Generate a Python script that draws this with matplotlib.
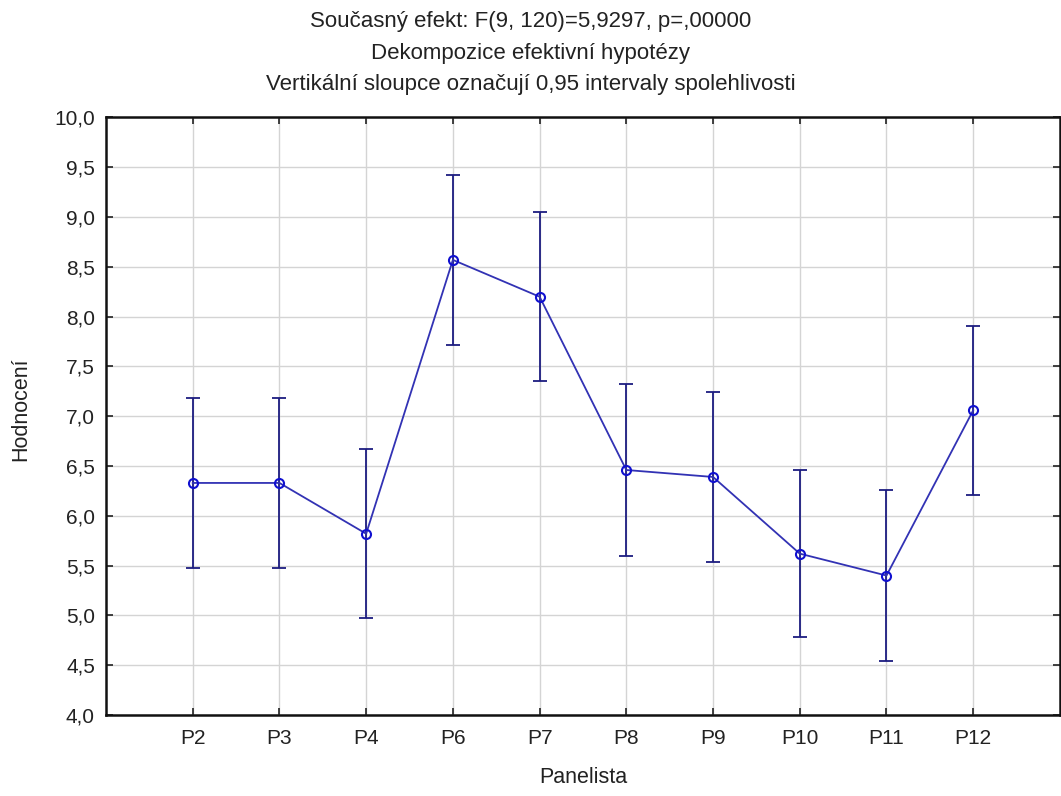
import matplotlib
matplotlib.use("Agg")
import matplotlib.pyplot as plt
from matplotlib.ticker import FuncFormatter

plt.rcParams["font.family"] = ["Liberation Sans", "DejaVu Sans"]

panelists = ["P2", "P3", "P4", "P6", "P7", "P8", "P9", "P10", "P11", "P12"]
means = [6.33, 6.33, 5.82, 8.57, 8.20, 6.46, 6.39, 5.62, 5.40, 7.06]
ci_half = [0.85, 0.85, 0.85, 0.85, 0.85, 0.86, 0.85, 0.84, 0.86, 0.85]
y_ticks = [4.0, 4.5, 5.0, 5.5, 6.0, 6.5, 7.0, 7.5, 8.0, 8.5, 9.0, 9.5, 10.0]

title_lines = [
    "Současný efekt: F(9, 120)=5,9297, p=,00000",
    "Dekompozice efektivní hypotézy",
    "Vertikální sloupce označují 0,95 intervaly spolehlivosti",
]

fig = plt.figure(figsize=(10.61, 7.96), dpi=100)
ax = fig.add_axes([0.0999, 0.1018, 0.8991, 0.7506])

x = list(range(1, len(panelists) + 1))

ax.errorbar(x, means, yerr=ci_half, fmt="none", ecolor="#1c1c80",
            elinewidth=1.3, capsize=5, capthick=1.3, zorder=3)
ax.plot(x, means, color="#3232b4", linewidth=1.3, marker="o", markersize=6.5,
        markerfacecolor="none", markeredgecolor="#1010d0", markeredgewidth=1.5,
        zorder=4)

ax.set_xlim(0, len(panelists) + 1)
ax.set_ylim(4.0, 10.0)
ax.set_xticks(x)
ax.set_xticklabels(panelists)
ax.set_yticks(y_ticks)
ax.yaxis.set_major_formatter(FuncFormatter(lambda v, p: f"{v:.1f}".replace(".", ",")))

ax.grid(True, color="#d4d4d4", linewidth=1.0)
ax.set_axisbelow(True)
ax.tick_params(axis="both", direction="in", length=5, width=1.2, color="#222222",
               labelsize=15, labelcolor="#222222", top=True, right=True)
ax.tick_params(axis="x", pad=10)
ax.tick_params(axis="y", pad=8)
for s in ax.spines.values():
    s.set_linewidth(1.8)
    s.set_color("#111111")

ax.set_xlabel("Panelista", fontsize=15.5, color="#222222", labelpad=14)
ax.set_ylabel("Hodnocení", fontsize=15.5, color="#222222", labelpad=12)
ax.yaxis.set_label_coords(-0.078, 0.512)

# three centred title lines, baselines
for i, line in enumerate(title_lines):
    fig.text(0.5, 1 - (27 + i * 31.5) / 796, line, ha="center", va="baseline",
             fontsize=16, color="#222222")

fig.savefig("out.png", dpi=100, facecolor="white")
